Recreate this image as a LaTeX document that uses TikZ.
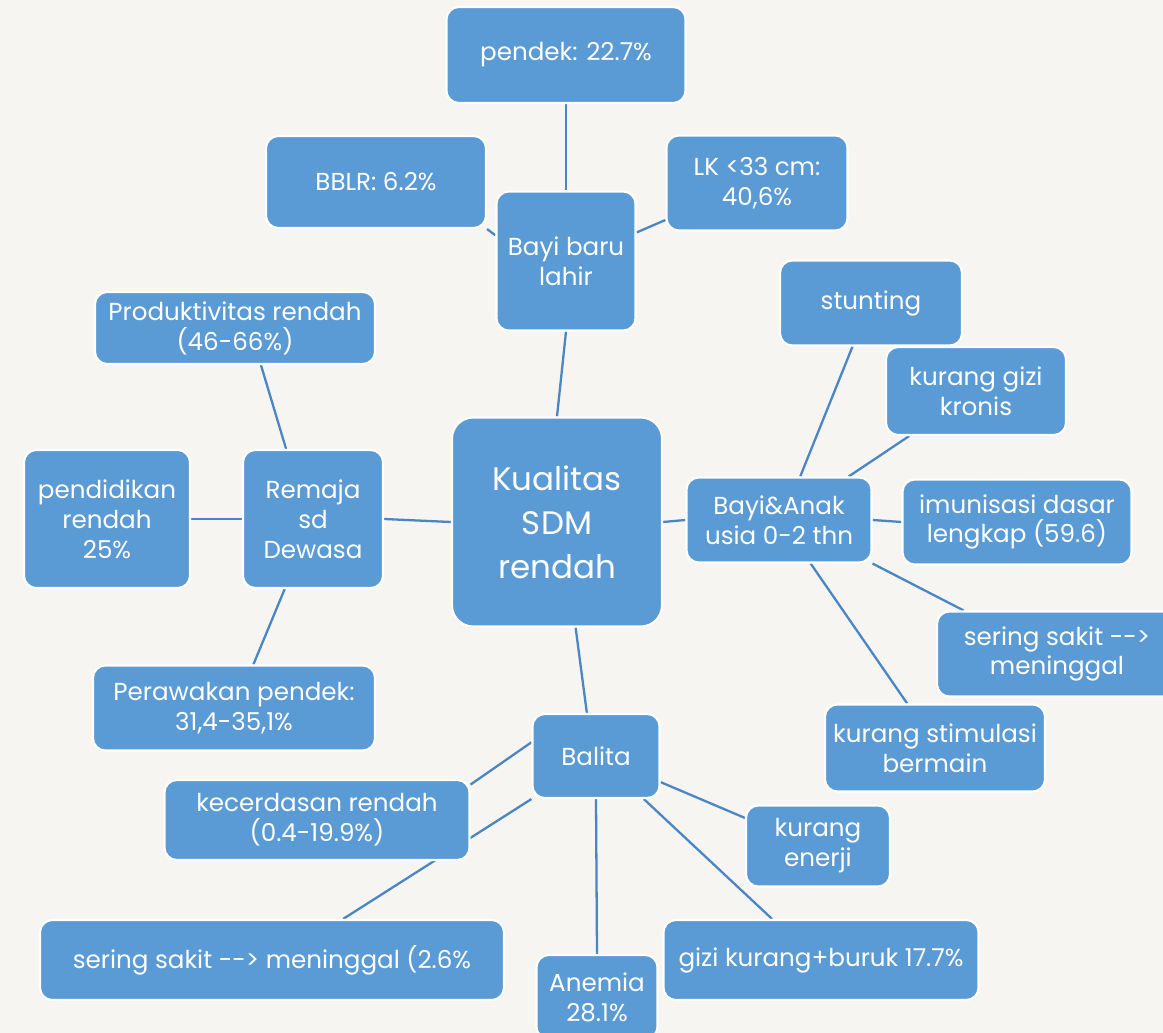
\documentclass[tikz,border=0pt]{standalone}
\usepackage{fontspec}
\setmainfont{Poppins}
\usetikzlibrary{backgrounds}

\definecolor{boxblue}{HTML}{5B9BD5}
\definecolor{linkblue}{HTML}{4A86C6}
\definecolor{paper}{HTML}{F6F5F1}

\begin{document}
\begin{tikzpicture}[
    x=0.02cm, y=-0.02cm,
    box/.style 2 args={rectangle, draw=white, line width=1.2pt, fill=boxblue, rounded corners=7pt, minimum width=#1*0.02cm, minimum height=#2*0.02cm, inner sep=2pt, align=center, text=white, font=\fontsize{14}{17}\selectfont},
    link/.style={draw=linkblue, line width=1.3pt}
]
    \useasboundingbox (0,0) rectangle (1163,1033);

    % Centre
    \node[box={210}{209}, rounded corners=12pt, font=\fontsize{18.5}{25}\selectfont] (sdm) at (557,522) {Kualitas\\SDM\\rendah};

    % Bayi baru lahir
    \node[box={139}{139}] (bayi) at (566,261) {Bayi baru\\lahir};
    \node[box={239}{96}] (pendek) at (566,55) {pendek: 22.7\%};
    \node[box={220}{92}] (bblr) at (376,182) {BBLR: 6.2\%};
    \node[box={181}{95}] (lk) at (757,183) {LK <33 cm:\\40,6\%};

    % Remaja sd Dewasa
    \node[box={140}{138}] (remaja) at (313,519) {Remaja\\sd\\Dewasa};
    \node[box={280}{72}] (prod) at (235,328) {Produktivitas rendah\\(46-66\%)};
    \node[box={166}{138}] (didik) at (107,519) {pendidikan\\rendah\\25\%};
    \node[box={282}{85}] (perawakan) at (234,708) {Perawakan pendek:\\31,4-35,1\%};

    % Bayi & Anak
    \node[box={185}{85}] (anak) at (779,520) {Bayi\&Anak\\usia 0-2 thn};
    \node[box={182}{85}] (stunting) at (871,303) {stunting};
    \node[box={180}{88}] (kronis) at (976,391) {kurang gizi\\kronis};
    \node[box={229}{85}] (imun) at (1017,522) {imunisasi dasar\\lengkap (59.6)};
    \node[box={240}{85}] (sakitA) at (1057,654) {sering sakit -{}->\\meninggal};
    \node[box={220}{87}] (stimulasi) at (935,748) {kurang stimulasi\\bermain};

    % Balita
    \node[box={127}{84}] (balita) at (596,756) {Balita};
    \node[box={305}{80}] (cerdas) at (317,820) {kecerdasan rendah\\(0.4-19.9\%)};
    \node[box={144}{81}] (enerji) at (818,846) {kurang\\enerji};
    \node[box={464}{80}] (sakitB) at (272,960) {sering sakit -{}-> meninggal (2.6\%};
    \node[box={121}{84}] (anemia) at (597,997) {Anemia\\28.1\%};
    \node[box={315}{80}] (gizi) at (821,960) {gizi kurang+buruk 17.7\%};

    % Links
    \begin{scope}[on background layer]
        \fill[paper] (0,0) rectangle (1163,1033);
        \draw[link] (pendek.south) -- (bayi.north);
        \draw[link] (bblr.south east) -- (bayi.160);
        \draw[link] (lk.202) -- (bayi.22);
        \draw[link] (bayi.south) -- (sdm.north);
        \draw[link] (prod.305) -- (remaja.111);
        \draw[link] (didik.east) -- (remaja.west);
        \draw[link] (perawakan.66) -- (remaja.248);
        \draw[link] (remaja.east) -- (sdm.west);
        \draw[link] (sdm.east) -- (anak.west);
        \draw[link] (stunting.247) -- (anak.64);
        \draw[link] (kronis.214) -- (anak.32);
        \draw[link] (anak.east) -- (imun.west);
        \draw[link] (anak.south east) -- (sakitA.155);
        \draw[link] (anak.306) -- (stimulasi.122);
        \draw[link] (sdm.280) -- (balita.102);
        \draw[link] (balita.168) -- (cerdas.13);
        \draw[link] (balita.south west) -- (sakitB.30);
        \draw[link] (balita.-22) -- (enerji.159);
        \draw[link] (balita.south) -- (anemia.north);
        \draw[link] (balita.-42) -- (gizi.140);
    \end{scope}
\end{tikzpicture}
\end{document}
